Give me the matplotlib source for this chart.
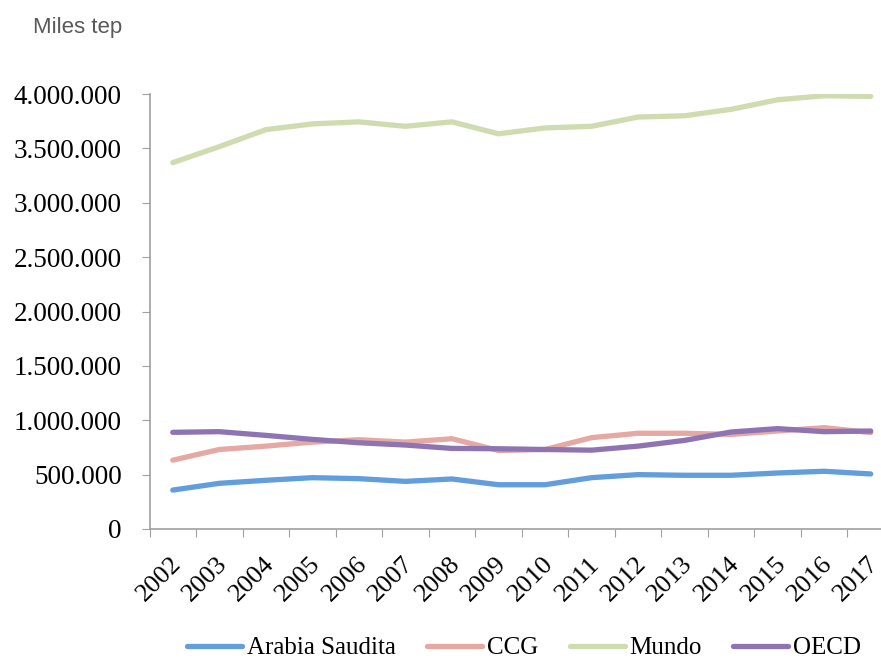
import matplotlib.pyplot as plt
from matplotlib.ticker import FuncFormatter
from matplotlib.transforms import blended_transform_factory, ScaledTranslation

years = [str(y) for y in range(2002, 2018)]
arabia = [358, 420, 448, 472, 463, 438, 460, 407, 407, 472, 500, 494, 494, 515, 531, 506]
ccg = [633, 731, 762, 799, 821, 799, 830, 722, 731, 840, 880, 880, 870, 901, 932, 886]
mundo = [3369, 3516, 3672, 3725, 3744, 3703, 3744, 3634, 3688, 3703, 3788, 3800, 3859, 3947, 3984, 3978]
oecd = [889, 895, 861, 824, 793, 772, 741, 738, 731, 725, 762, 815, 892, 923, 895, 901]

series = [("Arabia Saudita", arabia, "#629ddc"),
          ("CCG", ccg, "#e5a8a2"),
          ("Mundo", mundo, "#cedcb0"),
          ("OECD", oecd, "#8e74b2")]

fig = plt.figure(figsize=(8.81, 6.59), dpi=100)
# plot area runs past the right edge of the picture, like the original
ax = fig.add_axes([149.5 / 881, 1 - 529 / 659, (894 - 149.5) / 881, (529 - 94) / 659])

x = list(range(len(years)))
for name, vals, col in series:
    ax.plot(x, [v * 1000 for v in vals], color=col, lw=3.8, label=name,
            solid_capstyle="round", solid_joinstyle="round")

ax.set_xlim(-0.5, 15.5)
ax.set_ylim(0, 4000000)
ax.set_yticks(range(0, 4000001, 500000))
ax.yaxis.set_major_formatter(FuncFormatter(lambda v, p: "{:,.0f}".format(v).replace(",", ".")))
ax.set_xticks([i - 0.5 for i in range(16)])
ax.set_xticklabels([])

# year labels, rotated, a little left of each category centre
trans = blended_transform_factory(ax.transData, ax.transAxes) + \
    ScaledTranslation(-3 / 100, -24 / 100, fig.dpi_scale_trans)
for xi, yr in zip(x, years):
    ax.text(xi, 0, yr, transform=trans, rotation=45, ha="right", va="top",
            rotation_mode="anchor", fontsize=19, family="Liberation Serif")

for s in ["top", "right"]:
    ax.spines[s].set_visible(False)
for s in ["left", "bottom"]:
    ax.spines[s].set_color("#a0a0a0")
    ax.spines[s].set_linewidth(1.2)
ax.tick_params(axis="y", direction="out", length=6, color="#a0a0a0",
               labelsize=19.5, pad=14)
ax.tick_params(axis="x", direction="out", length=6, color="#a0a0a0")
for lab in ax.get_yticklabels():
    lab.set_fontfamily("Liberation Serif")

fig.text(33 / 881, 1 - 27 / 659, "Miles tep", fontsize=16, color="#595959",
         family="Liberation Sans", va="center", ha="left")

fig.legend(loc="center", bbox_to_anchor=(524 / 881, 1 - 648 / 659), ncol=4,
           frameon=False, prop={"family": "Liberation Serif", "size": 18},
           handlelength=2.2, handletextpad=0.2, columnspacing=1.25)

fig.savefig("out.png", dpi=100)
